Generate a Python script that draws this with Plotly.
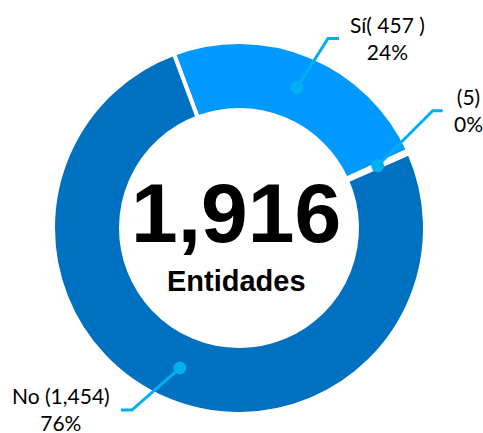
import math
import plotly.graph_objects as go

# ---- data ----
categories = ["Sí", "(5)", "No"]
values = [457, 5, 1454]
label_texts = ["Sí( 457 )", "(5)", "No (1,454)"]
slice_colors = ["#0099FF", "#FFFFFF", "#0070C0"]
total_label = "Entidades"

total = sum(values)
pcts = [f"{round(v / total * 100)}%" for v in values]

W, H = 483, 433
CX, CY = 239, 228          # centre in pixels
R_OUT, R_IN = 186, 118     # pie radius incl. half of the white stroke
ROT = -20.5

fig = go.Figure()
fig.add_trace(go.Pie(
    labels=categories, values=values, sort=False, direction="clockwise",
    rotation=ROT, hole=R_IN / R_OUT,
    marker=dict(colors=slice_colors, line=dict(color="white", width=4)),
    textinfo="none", hoverinfo="label+value+percent", showlegend=False,
    domain=dict(x=[(CX - R_OUT) / W, (CX + R_OUT) / W],
                y=[(H - CY - R_OUT) / H, (H - CY + R_OUT) / H]),
))
fig.add_trace(go.Scatter(x=[None], y=[None], showlegend=False, hoverinfo="skip"))

elbow_off = [(31, -49), (55, -55), (-48, 42)]
tail = [11, 10, -11]
text_off = [(48, -1), (26, -1), (-60, -1)]
rmid = (184 + 120) / 2
lead_color = "#00B0F0"
shapes, annotations = [], []
cum = 0
for i, v in enumerate(values):
    mid = ROT + (cum + v / 2) / total * 360
    cum += v
    a = math.radians(mid)
    dx, dy = CX + rmid * math.sin(a), CY - rmid * math.cos(a)
    ex, ey = dx + elbow_off[i][0], dy + elbow_off[i][1]
    tx = ex + tail[i]
    shapes.append(dict(type="path", xref="x", yref="y", layer="above",
                       path=f"M {dx},{dy} L {ex},{ey} L {tx},{ey}",
                       line=dict(color=lead_color, width=3)))
    rr = 6.5
    shapes.append(dict(type="circle", xref="x", yref="y", layer="above",
                       x0=dx - rr, x1=dx + rr, y0=dy - rr, y1=dy + rr,
                       fillcolor=lead_color, line=dict(width=0)))
    annotations.append(dict(
        x=tx + text_off[i][0], y=ey + text_off[i][1], xref="x", yref="y",
        text=f"{label_texts[i]}<br>{pcts[i]}", showarrow=False,
        xanchor="center", yanchor="middle", align="center",
        font=dict(family="Lato", size=21, color="#000000")))

annotations.append(dict(x=CX - 3, y=CY - 15.5, xref="x", yref="y",
                        text=f"<b>{total:,}</b>", showarrow=False,
                        font=dict(family="Liberation Sans", size=84, color="#000000"),
                        xanchor="center", yanchor="middle"))
annotations.append(dict(x=CX - 3, y=CY + 52.5, xref="x", yref="y",
                        text=f"<b>{total_label}</b>", showarrow=False,
                        font=dict(family="Liberation Sans", size=29, color="#000000"),
                        xanchor="center", yanchor="middle"))

fig.update_layout(
    width=W, height=H, margin=dict(l=0, r=0, t=0, b=0),
    paper_bgcolor="white", plot_bgcolor="rgba(0,0,0,0)",
    xaxis=dict(range=[0, W], visible=False, fixedrange=True),
    yaxis=dict(range=[H, 0], visible=False, fixedrange=True),
    shapes=shapes, annotations=annotations,
)
fig.write_html("out.html", config={"displayModeBar": False},
               post_script="document.body.style.margin='0';"
                           "document.body.style.overflow='hidden';")
